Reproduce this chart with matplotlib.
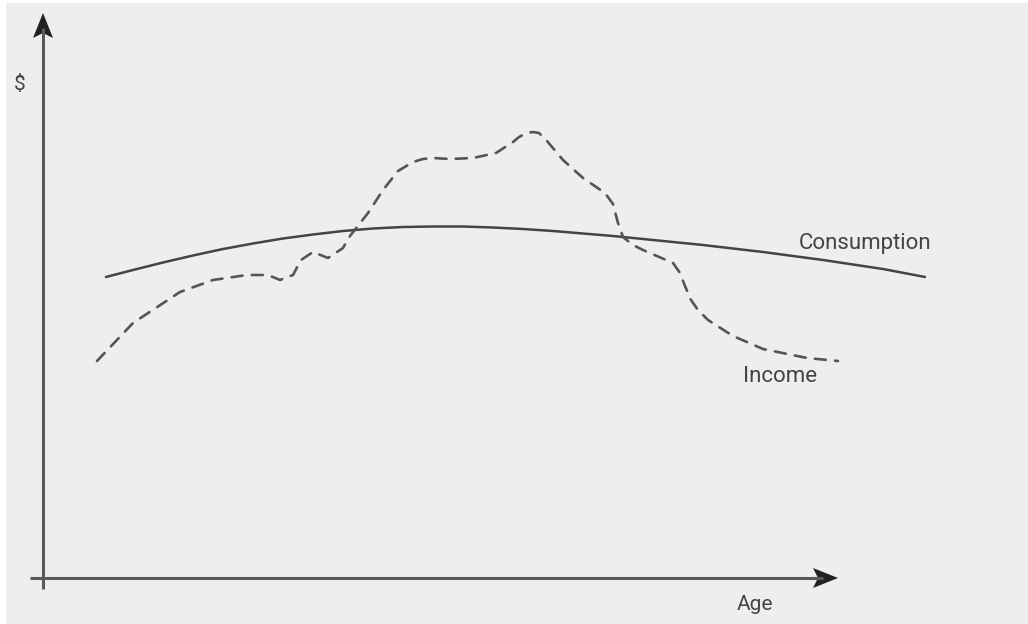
import matplotlib.pyplot as plt
import matplotlib.patches as patches

plt.rcParams['font.family'] = ['Roboto', 'DejaVu Sans']

# 数据：横轴为年龄（任意单位），纵轴为金额（任意单位）
consumption_age = [63, 90, 120, 150, 180, 210, 240, 270, 300, 330, 360, 390, 420,
                   450, 480, 510, 540, 570, 600, 630, 660, 690, 720, 750, 780,
                   810, 840, 882]
consumption_amt = [301, 308, 315.5, 322.5, 329, 334.5, 339.5, 343.5, 347, 349.5,
                   351, 351.5, 351.5, 350.5, 349, 347, 344.5, 342, 339, 336,
                   333, 329.5, 326, 322, 318, 313.5, 309, 301]

income_age = [54, 90, 137, 170, 204, 222, 230, 237, 250, 258, 270, 285, 300, 307,
              325, 340, 355, 370, 380, 390, 407, 430, 453, 470, 476, 484, 490,
              496, 504, 520, 540, 562, 570, 575, 580, 590, 600, 630, 637, 642,
              648, 655, 665, 690, 720, 764, 795]
income_amt = [217, 255, 286, 298, 303, 303, 301, 298, 303, 318, 326, 320, 330, 342,
              365, 388, 407, 416, 419, 420, 419, 420, 425, 436, 441, 445, 446,
              445, 437, 418, 400, 385, 374, 355, 341, 333, 328, 315, 305, 292,
              278, 268, 258, 242, 229, 220, 217]

fig = plt.figure(figsize=(10.28, 6.24), dpi=100, facecolor='white')
ax = fig.add_axes([0, 0, 1, 1])
ax.set_xlim(-43, 985)
ax.set_ylim(-46, 578)
ax.axis('off')

# 灰色背景区域
ax.add_patch(patches.Rectangle((6/1028, 0), 1 - 6/1028, 1 - 3/624,
                               transform=fig.transFigure,
                               facecolor='#eeeeee', edgecolor='none', zorder=-5))

axis_color = '#5a5a5a'
# 坐标轴
ax.plot([-13, 780], [0, 0], color=axis_color, lw=2.2, solid_capstyle='butt')
ax.plot([0, 0], [-11, 550], color=axis_color, lw=2.2, solid_capstyle='butt')
ax.add_patch(patches.Polygon([[795, 0], [770, 10], [775, 0], [770, -10]],
                             closed=True, facecolor='#222222', edgecolor='none'))
ax.add_patch(patches.Polygon([[0, 565], [-10, 540], [0, 545], [10, 540]],
                             closed=True, facecolor='#222222', edgecolor='none'))

# 曲线
ax.plot(consumption_age, consumption_amt, color='#444444', lw=1.8,
        solid_joinstyle='round', solid_capstyle='round')
ax.plot(income_age, income_amt, color='#555555', lw=1.9,
        dashes=(4.2, 3.5), dash_capstyle='round', dash_joinstyle='round')

# 标签
text_color = '#444444'
ax.text(-23, 493, '$', fontsize=15, color=text_color, ha='center', va='center')
ax.text(712, -27, 'Age', fontsize=15, color=text_color, ha='center', va='center')
ax.text(822, 335, 'Consumption', fontsize=16, color=text_color, ha='center', va='center')
ax.text(737, 202, 'Income', fontsize=16, color=text_color, ha='center', va='center')

fig.savefig('out.png', dpi=100, facecolor='white')
